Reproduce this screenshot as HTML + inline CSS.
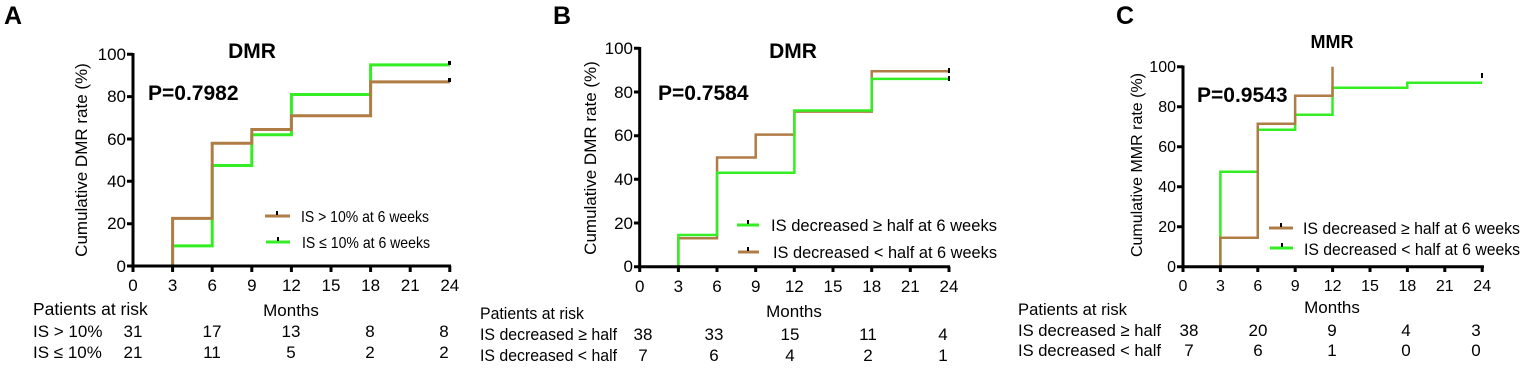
<!DOCTYPE html>
<html><head><meta charset="utf-8"><style>
html,body{margin:0;padding:0;background:#fff}
svg text{font-family:"Liberation Sans",Arial,sans-serif;fill:#000}
.b{font-weight:bold}
</style></head><body>
<svg width="1535" height="366" viewBox="0 0 1535 366" font-size="15" xmlns="http://www.w3.org/2000/svg">
<!-- ============ PANEL A ============ -->
<text x="4" y="24" class="b" font-size="25">A</text>
<text x="252" y="58" class="b" font-size="21" text-anchor="middle">DMR</text>
<text x="148" y="100" class="b" font-size="21">P=0.7982</text>
<text transform="translate(87,160) rotate(-90)" font-size="17" text-anchor="middle">Cumulative DMR rate (%)</text>
<g transform="translate(133,266) scale(13.2,-2.117)" fill="none" stroke-width="3">
<path vector-effect="non-scaling-stroke" stroke="#33ee22" d="M0,0H3V9.5H6V47.5H9V62H12V81H18V95H24"/>
<path vector-effect="non-scaling-stroke" stroke="#b07c45" d="M0,0H3V22.5H6V58H9V64.5H12V71H18V87H24"/>
</g>
<rect x="448" y="61" width="3" height="4" fill="#000"/><rect x="448" y="78" width="3" height="4" fill="#000"/>
<g stroke="#000" stroke-width="3" fill="none">
<path d="M133,53V266H451"/>
<path d="M127,54.3H133M127,96.6H133M127,139H133M127,181.3H133M127,223.7H133M127,266H133"/>
<path d="M133,266V272M172.6,266V272M212.2,266V272M251.8,266V272M291.4,266V272M331,266V272M370.6,266V272M410.2,266V272M449.8,266V272"/>
</g>
<g font-size="17" text-anchor="end">
<text x="126" y="60">100</text><text x="126" y="102">80</text><text x="126" y="145">60</text><text x="126" y="187">40</text><text x="126" y="229">20</text><text x="126" y="272">0</text>
</g>
<g font-size="17" text-anchor="middle">
<text x="133" y="291">0</text><text x="172.6" y="291">3</text><text x="212.2" y="291">6</text><text x="251.8" y="291">9</text><text x="291.4" y="291">12</text><text x="331" y="291">15</text><text x="370.6" y="291">18</text><text x="410.2" y="291">21</text><text x="449.8" y="291">24</text>
</g>
<path d="M265,216H290" stroke="#b07c45" stroke-width="3"/><rect x="276" y="211" width="2" height="4"/>
<path d="M266,242H290" stroke="#33ee22" stroke-width="3"/><rect x="277" y="237" width="2" height="4"/>
<text x="301" y="222" font-size="16" textLength="128" lengthAdjust="spacingAndGlyphs">IS &gt; 10% at 6 weeks</text>
<text x="302" y="248" font-size="16" textLength="128" lengthAdjust="spacingAndGlyphs">IS ≤ 10% at 6 weeks</text>
<text x="33" y="315" font-size="17.5">Patients at risk</text>
<text x="291" y="316" font-size="17" text-anchor="middle">Months</text>
<text x="33" y="337" font-size="17">IS &gt; 10%</text><text x="33" y="358" font-size="17">IS ≤ 10%</text>
<g font-size="17" text-anchor="middle">
<text x="133" y="337">31</text><text x="212" y="337">17</text><text x="291" y="337">13</text><text x="370" y="337">8</text><text x="444" y="337">8</text>
<text x="133" y="358">21</text><text x="212" y="358">11</text><text x="291" y="358">5</text><text x="370" y="358">2</text><text x="444" y="358">2</text>
</g>

<!-- ============ PANEL B ============ -->
<text x="553" y="24" class="b" font-size="25">B</text>
<text x="793" y="58" class="b" font-size="21" text-anchor="middle">DMR</text>
<text x="658" y="100" class="b" font-size="21">P=0.7584</text>
<text transform="translate(596,158) rotate(-90)" font-size="17" text-anchor="middle">Cumulative DMR rate (%)</text>
<g transform="translate(639.7,266.7) scale(12.89,-2.184)" fill="none" stroke-width="2.5">
<path vector-effect="non-scaling-stroke" stroke="#b07c45" d="M0,0H3V13H6V50H9V60.5H12V71H18V89.5H24"/>
<path vector-effect="non-scaling-stroke" stroke="#33ee22" d="M0,0H3V14.5H6V43H12V71.5H18V86H24"/>
</g>
<rect x="948" y="68" width="2" height="5"/><rect x="948" y="76" width="2" height="5"/>
<g stroke="#000" stroke-width="3" fill="none">
<path d="M639.7,47V266.7H950"/>
<path d="M634,48.3H639.7M634,92H639.7M634,135.7H639.7M634,179.3H639.7M634,223H639.7M634,266.7H639.7"/>
<path d="M639.7,266.7V272M678.4,266.7V272M717,266.7V272M755.7,266.7V272M794.3,266.7V272M833,266.7V272M871.7,266.7V272M910.3,266.7V272M949,266.7V272"/>
</g>
<g font-size="17" text-anchor="end">
<text x="633" y="54">100</text><text x="633" y="98">80</text><text x="633" y="141">60</text><text x="633" y="185">40</text><text x="633" y="229">20</text><text x="633" y="272">0</text>
</g>
<g font-size="17" text-anchor="middle">
<text x="639.7" y="292">0</text><text x="678.4" y="292">3</text><text x="717" y="292">6</text><text x="755.7" y="292">9</text><text x="794.3" y="292">12</text><text x="833" y="292">15</text><text x="871.7" y="292">18</text><text x="910.3" y="292">21</text><text x="949" y="292">24</text>
</g>
<path d="M737,225H759" stroke="#33ee22" stroke-width="3"/><rect x="747" y="220" width="2" height="4"/>
<path d="M738,252H759" stroke="#b07c45" stroke-width="3"/><rect x="747" y="247" width="2" height="4"/>
<text x="771" y="231" font-size="17" textLength="226" lengthAdjust="spacingAndGlyphs">IS decreased ≥ half at 6 weeks</text>
<text x="773" y="258" font-size="17" textLength="224" lengthAdjust="spacingAndGlyphs">IS decreased &lt; half at 6 weeks</text>
<text x="480" y="319" font-size="17" textLength="104" lengthAdjust="spacingAndGlyphs">Patients at risk</text>
<text x="794" y="317" font-size="17" text-anchor="middle">Months</text>
<text x="480" y="340" font-size="17" textLength="137" lengthAdjust="spacingAndGlyphs">IS decreased ≥ half</text><text x="480" y="361" font-size="17" textLength="137" lengthAdjust="spacingAndGlyphs">IS decreased &lt; half</text>
<g font-size="17" text-anchor="middle">
<text x="643" y="340">38</text><text x="714" y="340">33</text><text x="790" y="340">15</text><text x="868" y="340">11</text><text x="943" y="340">4</text>
<text x="643" y="361">7</text><text x="714" y="361">6</text><text x="790" y="361">4</text><text x="868" y="361">2</text><text x="943" y="361">1</text>
</g>

<!-- ============ PANEL C ============ -->
<text x="1116" y="24" class="b" font-size="25">C</text>
<text x="1332" y="48" class="b" font-size="18" text-anchor="middle">MMR</text>
<text x="1197" y="102" class="b" font-size="21">P=0.9543</text>
<text transform="translate(1142,165) rotate(-90)" font-size="16" text-anchor="middle">Cumulative MMR rate (%)</text>
<g transform="translate(1183,266.7) scale(12.46,-2.0)" fill="none" stroke-width="2.5">
<path vector-effect="non-scaling-stroke" stroke="#33ee22" d="M0,0H3V47.5H6V68.5H9V76H12V89.5H18V92H24"/>
<path vector-effect="non-scaling-stroke" stroke="#b07c45" d="M0,0H3V14.5H6V71.5H9V85.5H12V100"/>
</g>
<rect x="1481" y="73" width="2" height="5"/>
<g stroke="#000" stroke-width="3" fill="none">
<path d="M1183,65.5V266.7H1484"/>
<path d="M1177,66.7H1183M1177,106.7H1183M1177,146.7H1183M1177,186.7H1183M1177,226.7H1183M1177,266.7H1183"/>
<path d="M1183,266.7V272M1220.4,266.7V272M1257.8,266.7V272M1295.2,266.7V272M1332.6,266.7V272M1370,266.7V272M1407.4,266.7V272M1444.8,266.7V272M1482.2,266.7V272"/>
</g>
<g font-size="16" text-anchor="end">
<text x="1176" y="72">100</text><text x="1176" y="112">80</text><text x="1176" y="152">60</text><text x="1176" y="192">40</text><text x="1176" y="232">20</text><text x="1176" y="272">0</text>
</g>
<g font-size="16" text-anchor="middle">
<text x="1183" y="291">0</text><text x="1220.4" y="291">3</text><text x="1257.8" y="291">6</text><text x="1295.2" y="291">9</text><text x="1332.6" y="291">12</text><text x="1370" y="291">15</text><text x="1407.4" y="291">18</text><text x="1444.8" y="291">21</text><text x="1482.2" y="291">24</text>
</g>
<path d="M1269,228H1293" stroke="#b07c45" stroke-width="3"/><rect x="1280" y="223" width="2" height="4"/>
<path d="M1270,248H1293" stroke="#33ee22" stroke-width="3"/><rect x="1281" y="243" width="2" height="4"/>
<text x="1303" y="234" font-size="16.5" textLength="217" lengthAdjust="spacingAndGlyphs">IS decreased ≥ half at 6 weeks</text>
<text x="1304" y="255" font-size="16.5" textLength="216" lengthAdjust="spacingAndGlyphs">IS decreased &lt;  half at 6 weeks</text>
<text x="1018" y="315" font-size="17" textLength="109" lengthAdjust="spacingAndGlyphs">Patients at risk</text>
<text x="1332" y="313" font-size="17" text-anchor="middle">Months</text>
<text x="1018" y="336" font-size="17" textLength="143" lengthAdjust="spacingAndGlyphs">IS decreased ≥ half</text><text x="1018" y="356" font-size="17" textLength="143" lengthAdjust="spacingAndGlyphs">IS decreased &lt; half</text>
<g font-size="17" text-anchor="middle">
<text x="1189" y="336">38</text><text x="1258" y="336">20</text><text x="1332" y="336">9</text><text x="1406" y="336">4</text><text x="1476" y="336">3</text>
<text x="1189" y="356">7</text><text x="1258" y="356">6</text><text x="1332" y="356">1</text><text x="1406" y="356">0</text><text x="1476" y="356">0</text>
</g>
</svg>
</body></html>
